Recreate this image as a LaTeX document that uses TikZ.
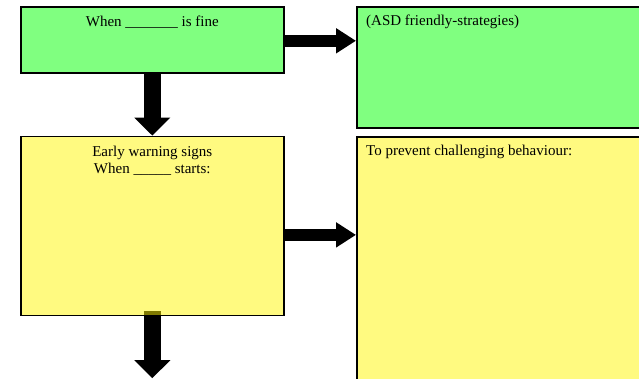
\documentclass[tikz,border=0pt]{standalone}
\usepackage{fontspec}
\setmainfont{Liberation Serif}
\usetikzlibrary{arrows.meta,calc,positioning}
\definecolor{calm}{RGB}{128,255,128}
\definecolor{warn}{RGB}{255,250,128}
\definecolor{overlap}{RGB}{128,122,0}

\begin{document}
\begin{tikzpicture}[x=1pt,y=-1pt,font=\fontsize{15}{17}\selectfont,box/.style={draw=black,line width=1.6pt,fill=#1,inner sep=0pt},head/.style={label={[anchor=north,inner sep=0pt,yshift=-10pt,align=center]north:#1}},note/.style={label={[anchor=north west,inner sep=0pt,xshift=10pt,yshift=-9pt]north west:#1}},down/.style={-{Triangle[length=18pt,width=35pt]},line width=17pt},side/.style={-{Triangle[length=20pt,width=24pt]},line width=12.5pt}]
\path[use as bounding box,clip] (0,0) rectangle (639,379);
\node[box=calm,minimum width=263pt,minimum height=66pt,anchor=north west,head={When \_\_\_\_\_\_\_ is fine}] (fine) at (20,6) {};
\node[box=warn,minimum width=263pt,minimum height=179pt,below=62pt of fine,head={Early warning signs\\When \_\_\_\_\_ starts:}] (signs) {};
\node[box=calm,minimum width=320pt,minimum height=121pt,anchor=north west,note={(ASD friendly-strategies)}] (strategies) at (356,6) {};
\node[box=warn,minimum width=320pt,minimum height=300pt,anchor=north west,note={To prevent challenging behaviour:}] (prevent) at (356,136) {};
\coordinate (next) at ($(signs.south)+(0,62)$);
\draw[down] (fine.south) -- (signs.north);
\draw[down] (signs.south) -- (next);
% shaft showing through the bottom edge of the box
\fill[overlap] ($(signs.south)+(-8.5,-5.5)$) rectangle ($(signs.south)+(8.5,-1)$);
\draw[side] ($(fine.east)+(0,1)$) -- ($(fine.east -| strategies.west)+(0,1)$);
\draw[side] ($(signs.east)+(0,9)$) -- ($(signs.east -| prevent.west)+(0,9)$);
\end{tikzpicture}
\end{document}
